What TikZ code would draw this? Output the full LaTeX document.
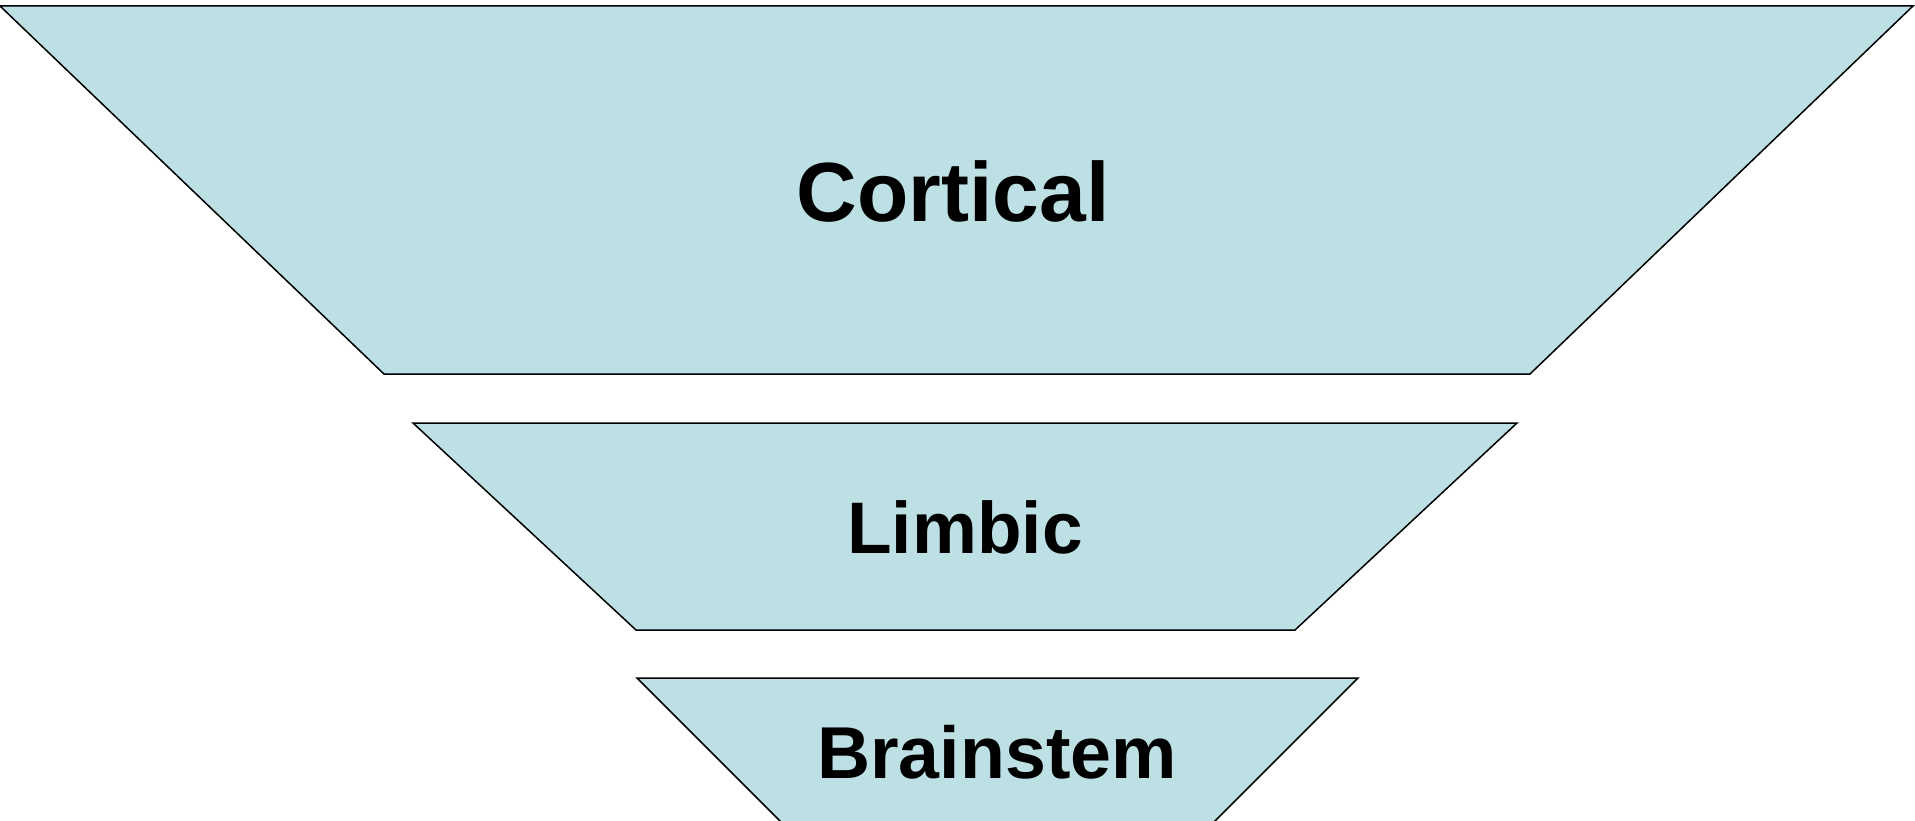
\documentclass[tikz,border=0pt]{standalone}
\usepackage{fontspec}
\setmainfont{Liberation Sans}
\definecolor{tealfill}{HTML}{BCE0E4}
\begin{document}
\begin{tikzpicture}[x=1pt,y=-1pt,
  layer/.style={draw=black,fill=tealfill,line width=1.5pt,line join=miter},
  lbl/.style={font=\bfseries,anchor=base,inner sep=0pt}]
\useasboundingbox (0,0) rectangle (1915,821);
\clip (0,0) rectangle (1915,821);
\draw[layer] (0,6) -- (1913,6) -- (1530,374) -- (384,374) -- cycle;
\draw[layer] (413,423) -- (1517,423) -- (1295,630) -- (636,630) -- cycle;
\draw[layer] (637,678) -- (1358,678) -- (1158,878) -- (837,878) -- cycle;
\node[lbl,font=\fontsize{84}{88}\selectfont\bfseries] (cortical) at (953,222) {Cortical};
\node[lbl,font=\fontsize{73}{78}\selectfont\bfseries] (limbic) at (965,553) {Limbic};
\node[lbl,font=\fontsize{73.5}{78}\selectfont\bfseries] (brainstem) at (997,778) {Brainstem};
\end{tikzpicture}
\end{document}
